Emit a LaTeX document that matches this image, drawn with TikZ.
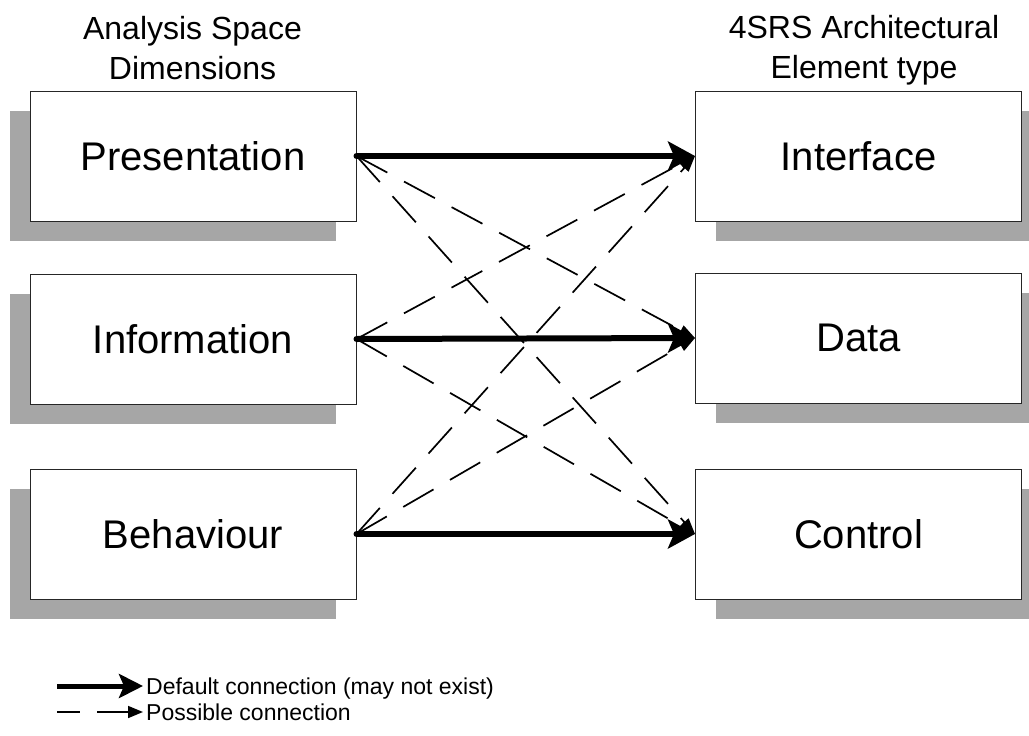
\documentclass[tikz,border=0pt]{standalone}
\usepackage{fontspec}
\setmainfont{Liberation Sans}
\usetikzlibrary{arrows.meta,shadows}
\definecolor{shadowgray}{HTML}{A6A6A6}
\begin{document}
\begin{tikzpicture}[x=1pt,y=-1pt,
  box/.style={draw=black!85, line width=1pt, fill=white, minimum width=326pt,
    minimum height=130pt, inner sep=0pt, font=\fontsize{40}{48}\selectfont},
  lshadow/.style={general shadow={fill=shadowgray, shadow xshift=-20pt, shadow yshift=-20pt}},
  rshadow/.style={general shadow={fill=shadowgray, shadow xshift=20pt, shadow yshift=-20pt}},
  title/.style={align=center, inner sep=0pt, anchor=north, font=\fontsize{32}{40}\selectfont},
  legendtext/.style={inner sep=0pt, anchor=base west, font=\fontsize{23}{28}\selectfont},
  defaultconn/.style={line width=6pt, line cap=round, -{Stealth[length=27pt,width=29pt,inset=6pt]}},
  possibleconn/.style={line width=1.7pt, dash pattern=on 35pt off 19pt, -{Triangle[length=16pt,width=11pt]}},
]
\useasboundingbox (0,0) rectangle (1029,736);

% titles
\node[title] (t1) at (192.5,16) {Analysis Space\\Dimensions};
\node[title] (t2) at (864,15) {4SRS Architectural\\Element type};

% left boxes
\node[box, lshadow] (P) at (193,156) {Presentation};
\node[box, lshadow] (In) at (193,339) {Information};
\node[box, lshadow] (B) at (193,534) {Behaviour};
% right boxes
\node[box, rshadow] (I) at (858.5,156) {Interface};
\node[box, rshadow] (D) at (858.5,338) {Data};
\node[box, rshadow] (C) at (858.5,534) {Control};

% possible connections
\draw[possibleconn] (P.east) -- (D.west);
\draw[possibleconn] (P.east) -- (C.west);
\draw[possibleconn] (In.east) -- (I.west);
\draw[possibleconn] (In.east) -- (C.west);
\draw[possibleconn] (B.east) -- (I.west);
\draw[possibleconn] (B.east) -- (D.west);

% default connections
\draw[defaultconn] (P.east) -- (I.west);
\draw[defaultconn] (In.east) -- (D.west);
\draw[defaultconn] (B.east) -- (C.west);

% legend
\coordinate (l1s) at (57,686);
\coordinate (l1e) at (143,686);
\coordinate (l2s) at (57,712);
\coordinate (l2e) at (143,712);
\draw[line width=5pt, -{Stealth[length=24pt,width=24pt,inset=5pt]}] (l1s) -- (l1e);
\draw[line width=1.7pt, dash pattern=on 23pt off 17pt on 40pt off 10pt, -{Triangle[length=15pt,width=12pt]}] (l2s) -- (l2e);
\node[legendtext] (lt1) at (146,694) {Default connection (may not exist)};
\node[legendtext] (lt2) at (146,720) {Possible connection};
\end{tikzpicture}
\end{document}
